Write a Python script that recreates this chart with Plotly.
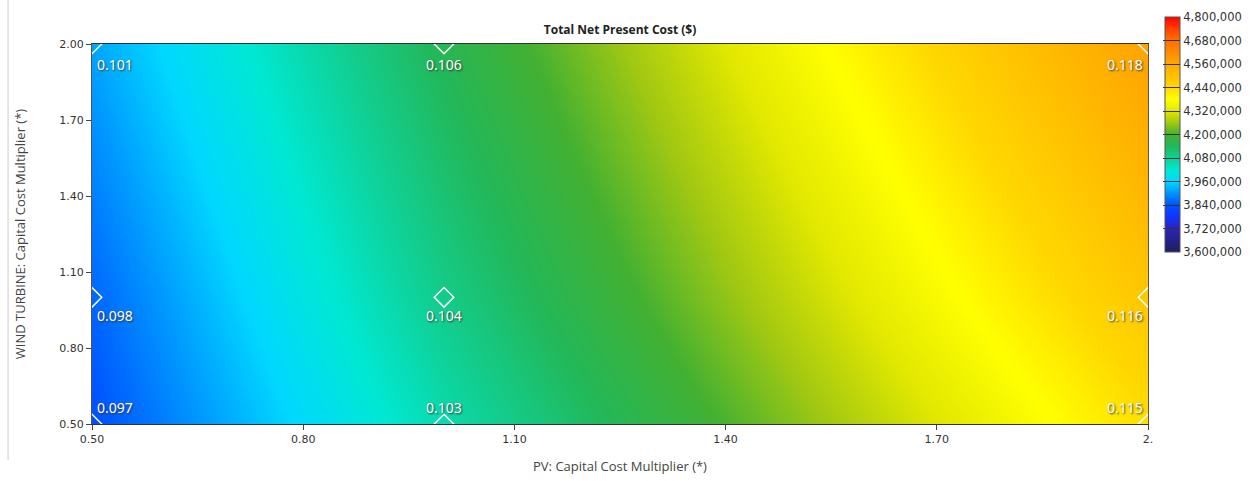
import plotly.graph_objects as go

# ---- data ----
pv_mult = [0.5, 1.0, 2.0]          # x: PV capital cost multiplier
wind_mult = [0.5, 1.0, 2.0]        # y: wind turbine capital cost multiplier
# total NPC ($) rows = wind_mult, cols = pv_mult
npc = [
    [3_835_000, 4_055_000, 4_430_000],
    [3_858_000, 4_092_000, 4_485_000],
    [3_915_000, 4_150_000, 4_575_000],
]
# COE labels at each sensitivity point
coe = [
    ["0.097", "0.103", "0.115"],
    ["0.098", "0.104", "0.116"],
    ["0.101", "0.106", "0.118"],
]
x_ticks = [0.5, 0.8, 1.1, 1.4, 1.7, 2.0]
x_ticktext = ["0.50", "0.80", "1.10", "1.40", "1.70", "2."]
y_ticks = [0.5, 0.8, 1.1, 1.4, 1.7, 2.0]
y_ticktext = ["0.50", "0.80", "1.10", "1.40", "1.70", "2.00"]
cb_ticks = [3_600_000 + 120_000 * i for i in range(11)]

colorscale = [
    [0.00, "#1e1e5c"],
    [0.10, "#2a24b8"],
    [0.15, "#1034ff"],
    [0.20, "#0052ff"],
    [0.25, "#0094ff"],
    [0.30, "#00d8ff"],
    [0.35, "#00e8d2"],
    [0.40, "#10d094"],
    [0.45, "#22b85a"],
    [0.50, "#42b032"],
    [0.55, "#a2c812"],
    [0.60, "#e2e800"],
    [0.65, "#ffff00"],
    [0.70, "#ffd800"],
    [0.75, "#ffc000"],
    [0.80, "#ffa800"],
    [0.85, "#ff8c00"],
    [0.90, "#ff7000"],
    [0.95, "#ff4000"],
    [1.00, "#ff0000"],
]

fig = go.Figure()
fig.add_trace(go.Heatmap(
    x=pv_mult, y=wind_mult, z=npc,
    zmin=3_600_000, zmax=4_800_000,
    zsmooth="best",
    colorscale=colorscale,
    hoverinfo="skip",
    colorbar=dict(
        x=1.016, xanchor="left", xpad=0,
        y=1.071, yanchor="top", ypad=0,
        len=235, lenmode="pixels",
        thickness=15,
        outlinecolor="#555555", outlinewidth=1,
        tickvals=cb_ticks,
        tickformat=",d",
        ticks="inside", ticklen=17, tickcolor="#333333", tickwidth=1,
        tickfont=dict(family="DejaVu Sans", size=11.5, color="#333333"),
    ),
))

px, py = [], []
annotations = []
for j, yv in enumerate(wind_mult):
    for i, xv in enumerate(pv_mult):
        px.append(xv)
        py.append(yv)
        if i == 0:
            xanchor, xshift = "left", 3
        elif i == len(pv_mult) - 1:
            xanchor, xshift = "right", -3
        else:
            xanchor, xshift = "center", 0
        yshift = 17 if j == 0 else (-18 if j == 1 else -20)
        annotations.append(dict(
            x=xv, y=yv, xref="x", yref="y", text=coe[j][i], showarrow=False,
            xanchor=xanchor, yanchor="middle", xshift=xshift, yshift=yshift,
            font=dict(family="Noto Sans", size=14, color="white", shadow="1px 1px 2px #333"),
        ))

fig.add_trace(go.Scatter(
    x=px, y=py, mode="markers",
    marker=dict(symbol="diamond-open", size=15, color="white", line=dict(width=1.5)),
    cliponaxis=True,
    hoverinfo="skip",
    showlegend=False,
))

fig.update_layout(
    width=1254, height=481,
    margin=dict(l=92, r=106, t=44, b=57, autoexpand=False),
    paper_bgcolor="white", plot_bgcolor="white",
    title=dict(text="<b>Total Net Present Cost ($)</b>", x=0.5, xanchor="center",
               xref="paper", y=0.938, yanchor="middle",
               font=dict(family="Open Sans", size=12, color="#222222")),
    xaxis=dict(
        range=[0.5, 2.0], tickvals=x_ticks, ticktext=x_ticktext,
        ticks="outside", ticklen=5, tickcolor="#444444",
        showline=True, linecolor="#333333", linewidth=1, mirror=True,
        showgrid=False, zeroline=False,
        tickfont=dict(family="DejaVu Sans", size=11, color="#333333"),
        title=dict(text="PV: Capital Cost Multiplier (*)", standoff=16,
                   font=dict(family="Open Sans", size=13, color="#444444")),
    ),
    yaxis=dict(
        range=[0.5, 2.0], tickvals=y_ticks, ticktext=y_ticktext,
        ticks="outside", ticklen=5, tickcolor="#444444",
        showline=True, linecolor="#555555", linewidth=1, mirror=True,
        showgrid=False, zeroline=False,
        tickfont=dict(family="DejaVu Sans", size=11, color="#333333"),
        title=dict(text="WIND TURBINE: Capital Cost Multiplier (*)", standoff=30,
                   font=dict(family="Open Sans", size=13, color="#444444")),
    ),
    annotations=annotations,
    shapes=[dict(type="line", xref="paper", yref="paper",
                 x0=-0.0795, x1=-0.0795, y0=-0.095, y1=1.116,
                 line=dict(color="#cccccc", width=1))],
)

fig.write_html("out.html")
